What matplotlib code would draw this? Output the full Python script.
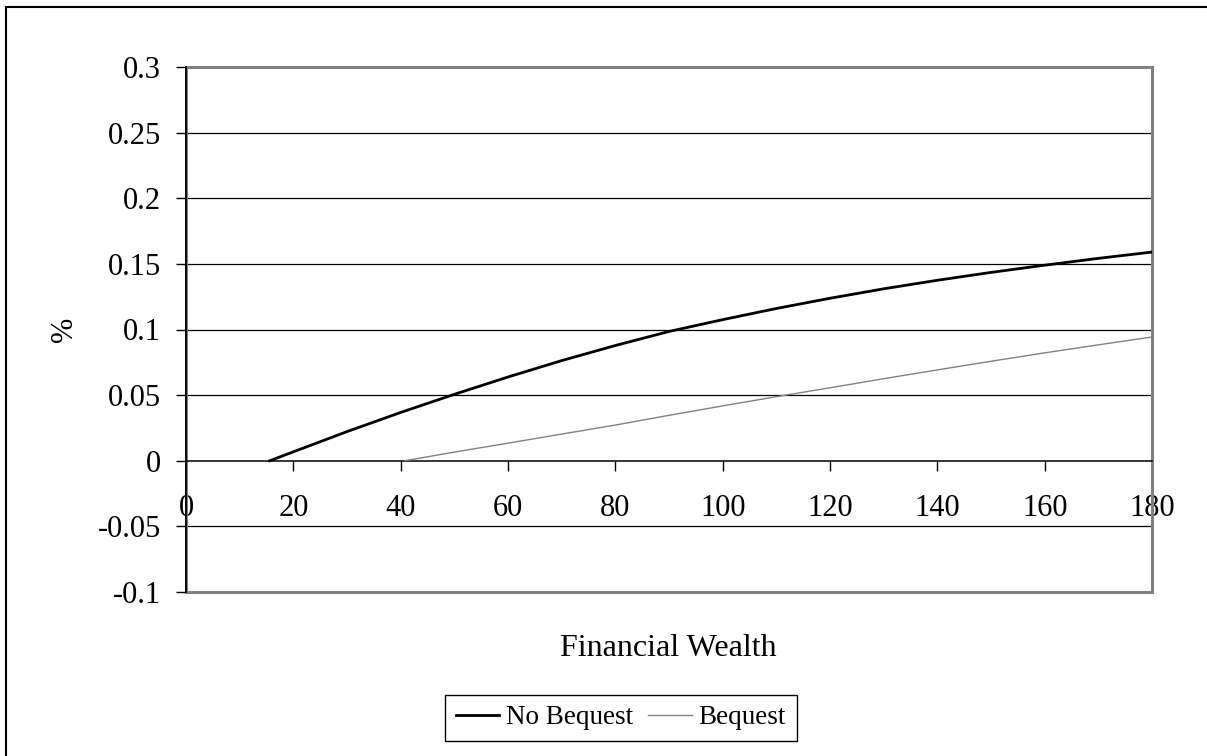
import matplotlib
matplotlib.use('Agg')
import matplotlib.pyplot as plt
from matplotlib.lines import Line2D
from matplotlib.patches import Rectangle
from matplotlib.ticker import FuncFormatter

plt.rcParams['font.family'] = 'Liberation Serif'
plt.rcParams['font.size'] = 22
plt.rcParams['axes.unicode_minus'] = False

# No Bequest curve
wealth_nb = [15.6, 20, 30, 40, 50, 60, 70, 80, 90, 100, 110, 120, 130, 140, 150, 160, 170, 180]
share_nb = [0.0, 0.0068, 0.0222, 0.0368, 0.0506, 0.0638, 0.0763, 0.0878, 0.0985, 0.1075,
            0.1160, 0.1238, 0.1310, 0.1375, 0.1435, 0.1490, 0.1542, 0.1590]
# Bequest curve
wealth_b = [40.8, 50, 60, 70, 80, 90, 100, 110, 120, 130, 140, 150, 160, 170, 180]
share_b = [0.0, 0.0066, 0.0134, 0.0203, 0.0272, 0.0346, 0.0418, 0.0488, 0.0556, 0.0625,
           0.0692, 0.0758, 0.0822, 0.0883, 0.0943]

xticks = [0, 20, 40, 60, 80, 100, 120, 140, 160, 180]
yticks = [-0.1, -0.05, 0, 0.05, 0.1, 0.15, 0.2, 0.25, 0.3]

W, H = 1207, 756
fig = plt.figure(figsize=(W / 100, H / 100), dpi=100)
ax = fig.add_axes([186 / W, 1 - 592 / H, (1152 - 186) / W, (592 - 67) / H])

ax.plot(wealth_nb, share_nb, color='black', lw=2.0, label='No Bequest', zorder=4)
ax.plot(wealth_b, share_b, color='#808080', lw=1.0, label='Bequest', zorder=4)

ax.set_xlim(0, 180)
ax.set_ylim(-0.1, 0.3)
ax.set_xticks(xticks)
ax.set_yticks(yticks)
ax.yaxis.set_major_formatter(FuncFormatter(lambda v, p: '%g' % round(v, 3)))
ax.xaxis.set_major_formatter(FuncFormatter(lambda v, p: '%g' % v))

for y in yticks:
    if y not in (0, -0.1, 0.3):
        ax.axhline(y, color='black', lw=0.9, zorder=1)

# grey plot-area frame
for s in ['top', 'right']:
    ax.spines[s].set_visible(False)
ax.add_patch(Rectangle((0, 0), 1, 1, transform=ax.transAxes, fill=False,
                       edgecolor='#808080', lw=2.2, zorder=2, clip_on=False))

ax.spines['left'].set_color('black')
ax.spines['left'].set_linewidth(1.3)
ax.spines['left'].set_zorder(3)
ax.spines['bottom'].set_position(('data', 0))
ax.spines['bottom'].set_color('black')
ax.spines['bottom'].set_linewidth(1.1)
ax.spines['bottom'].set_zorder(3)

ax.tick_params(axis='y', direction='out', length=7, width=1, pad=11)
ax.tick_params(axis='x', direction='out', length=7, width=1, pad=17)

ax.set_ylabel('%')
ax.yaxis.set_label_coords(-0.126, 0.5)
ax.yaxis.label.set_verticalalignment('center')

fig.text(668 / W, 1 - 648 / H, 'Financial Wealth', ha='center', va='center', fontsize=23)

fig.legend(loc='center', bbox_to_anchor=(621 / W, 1 - 718 / H), ncol=2,
           frameon=True, fancybox=False, edgecolor='black', framealpha=1,
           fontsize=19.5, handlelength=1.6, handletextpad=0.26, columnspacing=0.55,
           borderpad=0.4, borderaxespad=0)

# outer chart border (left and top only visible)
fig.add_artist(Line2D([6 / W, 6 / W], [0, 1 - 7 / H], transform=fig.transFigure,
                      color='black', lw=1.5))
fig.add_artist(Line2D([6 / W, 1], [1 - 7 / H, 1 - 7 / H], transform=fig.transFigure,
                      color='black', lw=1.5))

fig.savefig('out.png', dpi=100)
